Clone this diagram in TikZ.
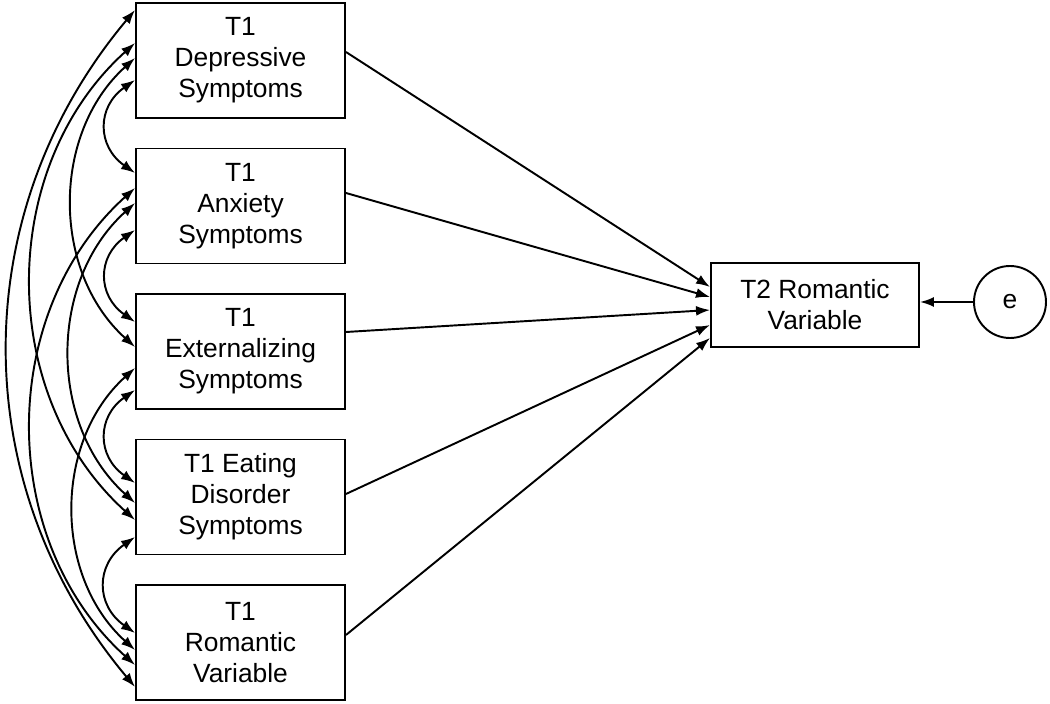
\documentclass[tikz,border=0pt]{standalone}
\usepackage{fontspec}
\setmainfont{Liberation Sans}
\usetikzlibrary{arrows.meta}

\begin{document}
\begin{tikzpicture}[
    box/.style={draw, line width=1.1pt, minimum width=4.18cm, minimum height=2.3cm, inner sep=0pt, align=center, font=\fontsize{15}{17.6}\selectfont},
    link/.style={line width=1.1pt, -{Latex[length=2.8mm,width=2mm]}},
    cov/.style={line width=1.1pt, {Latex[length=2.8mm,width=2mm]}-{Latex[length=2.8mm,width=2mm]}},
    ]
    \useasboundingbox (0,0) rectangle (21,14.08);

    \node[box] (dep) at (4.81,12.87) {T1\\Depressive\\Symptoms};
    \node[box] (anx) at (4.81,9.96) {T1\\Anxiety\\Symptoms};
    \node[box] (ext) at (4.81,7.05) {T1\\Externalizing\\Symptoms};
    \node[box] (eat) at (4.81,4.14) {T1 Eating\\Disorder\\Symptoms};
    \node[box] (rom) at (4.81,1.23) {T1\\Romantic\\Variable};

    \node[box, minimum width=4.16cm, minimum height=1.68cm] (t2) at (16.3,7.98) {T2 Romantic\\Variable};
    \node[draw, circle, line width=1.1pt, minimum size=1.44cm, inner sep=0pt, font=\fontsize{15}{17.6}\selectfont] (e) at (20.2,8.04) {e};

    % paths to T2
    \draw[link] ([yshift=0.17cm]dep.east) -- ([yshift=0.36cm]t2.west);
    \draw[link] ([yshift=0.26cm]anx.east) -- ([yshift=0.16cm]t2.west);
    \draw[link] ([yshift=0.39cm]ext.east) -- ([yshift=-0.10cm]t2.west);
    \draw[link] ([yshift=0.06cm]eat.east) -- ([yshift=-0.40cm]t2.west);
    \draw[link] ([yshift=0.15cm]rom.east) -- ([yshift=-0.66cm]t2.west);
    \draw[link] (e.west) -- (e.west -| t2.east);

    % covariances
    \draw[cov] ([yshift=-0.39cm]dep.west) to[bend right=55, looseness=1.29] ([yshift=0.66cm]anx.west);
    \draw[cov] ([yshift=-0.48cm]anx.west) to[bend right=55, looseness=1.29] ([yshift=0.59cm]ext.west);
    \draw[cov] ([yshift=-0.77cm]ext.west) to[bend right=55, looseness=1.29] ([yshift=0.28cm]eat.west);
    \draw[cov] ([yshift=-0.80cm]eat.west) to[bend right=55, looseness=1.29] ([yshift=0.19cm]rom.west);

    \draw[cov] ([yshift=0.05cm]dep.west) to[bend right=48] ([yshift=0.09cm]ext.west);
    \draw[cov] ([yshift=0.06cm]anx.west) to[bend right=48] ([yshift=-0.12cm]eat.west);
    \draw[cov] ([yshift=-0.33cm]ext.west) to[bend right=48] ([yshift=-0.15cm]rom.west);

    \draw[cov] ([yshift=0.35cm]dep.west) to[bend right=48] ([yshift=-0.46cm]eat.west);
    \draw[cov] ([yshift=0.36cm]anx.west) to[bend right=48] ([yshift=-0.45cm]rom.west);

    \draw[cov] ([yshift=1.01cm]dep.west) to[bend right=40] ([yshift=-0.89cm]rom.west);

\end{tikzpicture}
\end{document}
